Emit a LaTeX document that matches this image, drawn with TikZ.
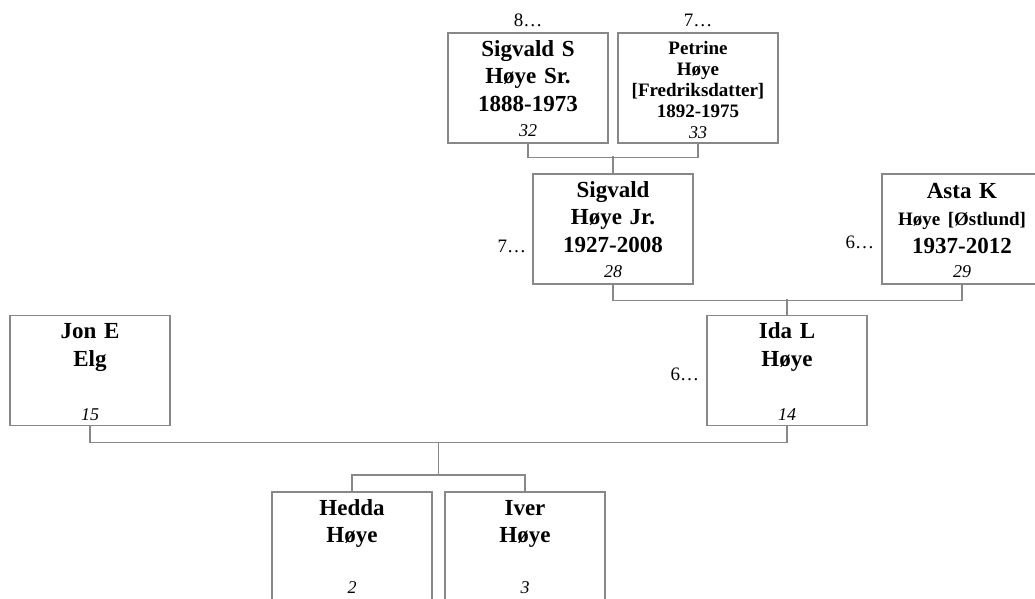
\documentclass[tikz,border=0pt]{standalone}
\usepackage{fontspec}
\setmainfont{Liberation Serif}
\usetikzlibrary{positioning}
\definecolor{boxgray}{RGB}{136,136,136}
\tikzset{
  person/.style={draw=boxgray, line width=1.2pt, minimum width=160pt,
    minimum height=110pt, inner sep=0pt},
  who/.style={font=\bfseries\fontsize{23}{27.5}\selectfont, text width=156pt,
    align=center, inner sep=0pt, anchor=base},
  whosmall/.style={who, font=\bfseries\fontsize{19}{21}\selectfont},
  idnum/.style={font=\itshape\fontsize{18}{20}\selectfont, inner sep=0pt, anchor=base},
  gen/.style={font=\fontsize{19}{22}\selectfont, inner sep=0pt},
  link/.style={draw=boxgray, line width=1.2pt}
}
\begin{document}
\begin{tikzpicture}[x=1pt, y=-1pt]
  \path[use as bounding box, clip] (0,0) rectangle (1035,598);
  % boxes
  \node[person] (sigS)  at (528,88) {};
  \node[person] (petr)  at (698,88) {};
  \node[person] (sigJ)  at (613,229) {};
  \node[person] (asta)  at (962,229) {};
  \node[person] (jon)   at (90,370.5) {};
  \node[person] (ida)   at (787,370.5) {};
  \node[person] (hedda) at (352,547) {};
  \node[person] (iver)  at (525,547) {};
  % names
  \node[who] (sigSname) at ([yshift=-24pt]sigS.north) {Sigvald S\\Høye Sr.\\1888-1973};
  \node[whosmall] (petrname) at ([yshift=-22pt]petr.north) {Petrine\\Høye\\[0pt][Fredriksdatter]\\1892-1975};
  \node[who] (sigJname) at ([yshift=-24pt]sigJ.north) {Sigvald\\Høye Jr.\\1927-2008};
  \node[who] (astaname) at ([yshift=-25pt]asta.north) {Asta K\\{\fontsize{19}{21}\selectfont Høye [Østlund]}\\1937-2012};
  \node[who] (jonname) at ([yshift=-24pt]jon.north) {Jon E\\Elg};
  \node[who] (idaname) at ([yshift=-24pt]ida.north) {Ida L\\Høye};
  \node[who] (heddaname) at ([yshift=-24pt]hedda.north) {Hedda\\Høye};
  \node[who] (ivername) at ([yshift=-24pt]iver.north) {Iver\\Høye};
  % numbers
  \node[idnum] (sigSnum)  at ([yshift=7pt]sigS.south) {32};
  \node[idnum] (petrnum)  at ([yshift=5pt]petr.south) {33};
  \node[idnum] (sigJnum)  at ([yshift=7pt]sigJ.south) {28};
  \node[idnum] (astanum)  at ([yshift=7pt]asta.south) {29};
  \node[idnum] (jonnum)   at ([yshift=6pt]jon.south) {15};
  \node[idnum] (idanum)   at ([yshift=6pt]ida.south) {14};
  \node[idnum] (heddanum) at ([yshift=9pt]hedda.south) {2};
  \node[idnum] (ivernum)  at ([yshift=9pt]iver.south) {3};
  % generations
  \node[gen, above=5pt of sigS] (sigSgen) {8…};
  \node[gen, above=5pt of petr] (petrgen) {7…};
  \node[gen, left=6pt of sigJ, anchor=base east, yshift=-23pt] (sigJgen) {7…};
  \node[gen, left=7pt of asta, anchor=base east, yshift=-19pt] (astagen) {6…};
  \node[gen, left=7pt of ida, anchor=base east, yshift=-9.5pt] (idagen) {6…};
  % links
  \draw[link] (sigS.south) -- ++(0,14) -| (petr.south);
  \draw[link] (sigJ.north) -- ++(0,-17);
  \draw[link] (sigJ.south) -- ++(0,16) -| (asta.south);
  \draw[link] (ida.north) -- ++(0,-16);
  \draw[link] (jon.south) -- ++(0,16) coordinate (parbar) -| (ida.south);
  \coordinate (kidbar) at (438.5,475);
  \draw[link] (kidbar) -- (kidbar |- parbar);
  \draw[link] (hedda.north) |- (kidbar) -| (iver.north);
\end{tikzpicture}
\end{document}
